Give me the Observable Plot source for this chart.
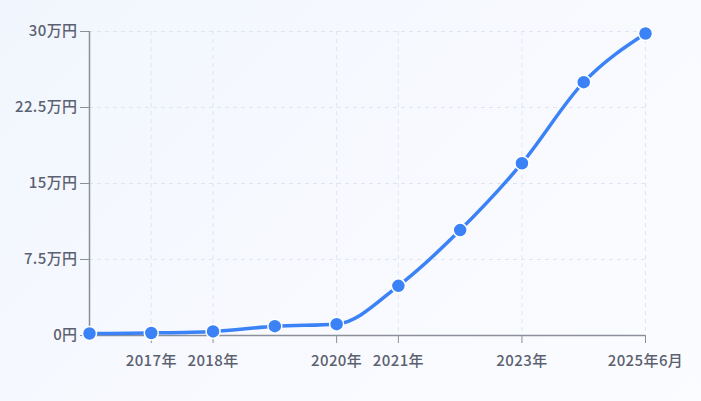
<!DOCTYPE html>
<html>
<head>
<meta charset="utf-8">
<script src="https://cdn.jsdelivr.net/npm/d3@7"></script>
<script src="https://cdn.jsdelivr.net/npm/@observablehq/plot@0.6"></script>
<style>
  html, body { margin: 0; padding: 0; }
  body {
    width: 701px; height: 401px; overflow: hidden;
    background: linear-gradient(135deg, #f1f6fe 0%, #f7f9fe 50%, #fbfcff 100%);
    font-family: "Noto Sans CJK JP", "Noto Sans", sans-serif;
  }
  svg { display: block; }
  svg text { letter-spacing: 0.4px; }
</style>
</head>
<body>
<div id="chart"></div>
<script>
const periods = ["2016年", "2017年", "2018年", "2019年", "2020年", "2021年", "2022年", "2023年", "2024年", "2025年6月"];
const values = [0.2, 0.25, 0.4, 0.92, 1.12, 4.9, 10.4, 17.0, 25.0, 29.8]; // 万円
const xTickLabels = ["2017年", "2018年", "2020年", "2021年", "2023年", "2025年6月"];
const yTicks = [0, 7.5, 15, 22.5, 30];

const data = periods.map((p, i) => ({period: p, value: values[i]}));

const chart = Plot.plot({
  width: 701,
  height: 401,
  marginLeft: 89,
  marginRight: 56,
  marginTop: 31,
  marginBottom: 66,
  style: {background: "transparent", fontFamily: "'Noto Sans CJK JP', sans-serif", fontSize: "15px", fontWeight: 500, color: "#5b6170"},
  x: {type: "point", domain: periods, padding: 0, round: false, label: null},
  y: {domain: [0, 30], label: null},
  marks: [
    Plot.gridY(yTicks, {stroke: "#dfe4f3", strokeOpacity: 1, strokeDasharray: "4,4"}),
    Plot.gridX(xTickLabels, {stroke: "#dfe4f3", strokeOpacity: 1, strokeDasharray: "4,4"}),
    Plot.axisY(yTicks, {label: null, tickSize: 9, tickPadding: 3, stroke: "#8a8f99", fill: "#5b6170", fontSize: 15, tickFormat: d => d === 0 ? "0円" : `${d}万円`}),
    Plot.ruleX([periods[0]], {stroke: "#8a8f99", strokeWidth: 1.5}),
    Plot.axisX(xTickLabels, {label: null, tickSize: 8, tickPadding: 12, stroke: "#8a8f99", fill: "#5b6170", fontSize: 15}),
    Plot.ruleY([0], {stroke: "#8a8f99", strokeWidth: 1.5}),
    Plot.line(data, {x: "period", y: "value", curve: "monotone-x", stroke: "#3b82f6", strokeWidth: 3.5}),
    Plot.dot(data, {x: "period", y: "value", r: 7, fill: "#3b82f6", stroke: "white", strokeWidth: 1.5})
  ]
});
document.getElementById("chart").appendChild(chart);
</script>
</body>
</html>
